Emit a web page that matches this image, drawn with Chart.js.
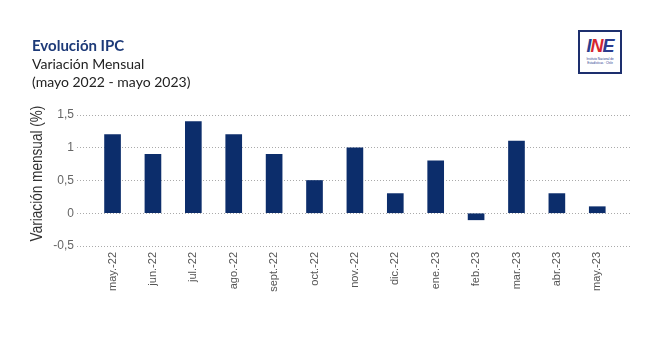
<!DOCTYPE html>
<html>
<head>
<meta charset="utf-8">
<script src="https://cdn.jsdelivr.net/npm/chart.js@4/dist/chart.umd.min.js"></script>
<style>
  html, body { margin: 0; padding: 0; background: #fff; }
  #wrap { position: relative; width: 650px; height: 345px; }
  #ipcChart { position: absolute; left: 0; top: 0; }
  .hdr { position: absolute; left: 32px; font-family: Lato, "Open Sans", sans-serif; white-space: nowrap; }
  #t1 { top: 36px; font-size: 15px; font-weight: bold; color: #1d3a78; }
  #t2 { top: 55px; font-size: 14px; color: #222; }
  #t3 { top: 73px; font-size: 14px; color: #222; }
  #logo { position: absolute; left: 578px; top: 30px; width: 44px; height: 44px; border: 2px solid #1d2f6e; box-sizing: border-box; background: #fff; text-align: center; font-family: "Liberation Sans", sans-serif; }
  #logo b { display: block; margin-top: 5px; font-size: 18px; line-height: 18px; letter-spacing: -1px; font-style: italic; }
  #logo b .i { color: #2a3d8f; }
  #logo b .n { color: #d6262f; }
  #logo b .e { color: #2a3d8f; }
  #logo small { display: block; font-size: 3px; line-height: 4px; color: #2a3d8f; margin-top: 2px; }
</style>
</head>
<body>
<div id="wrap">
  <canvas id="ipcChart" width="650" height="345"></canvas>
  <div class="hdr" id="t1">Evolución IPC</div>
  <div class="hdr" id="t2">Variación Mensual</div>
  <div class="hdr" id="t3">(mayo 2022 - mayo 2023)</div>
  <div id="logo"><b><span class="i">I</span><span class="n">N</span><span class="e">E</span></b><small>Instituto Nacional de<br>Estadísticas · Chile</small></div>
</div>
<script>
// monthly IPC variation, May 2022 - May 2023
const months = ['may.-22', 'jun.-22', 'jul.-22', 'ago.-22', 'sept.-22', 'oct.-22', 'nov.-22',
  'dic.-22', 'ene.-23', 'feb.-23', 'mar.-23', 'abr.-23', 'may.-23'];
const variacion = [1.2, 0.9, 1.4, 1.2, 0.9, 0.5, 1.0, 0.3, 0.8, -0.1, 1.1, 0.3, 0.1];
const yTicks = [-0.5, 0, 0.5, 1, 1.5];
const yTitle = 'Variación mensual (%)';

const barColor = '#0c2d6b';
const ctx = document.getElementById('ipcChart').getContext('2d');

const fmt = (v) => String(v).replace('.', ',');

// y axis title, drawn narrow like the original Arial Narrow look
const axisTitle = {
  id: 'axisTitle',
  afterDraw(chart) {
    const c = chart.ctx;
    const area = chart.chartArea;
    c.save();
    c.translate(37, (area.top + area.bottom) / 2 - 7);
    c.rotate(-Math.PI / 2);
    c.scale(0.8, 1);
    c.font = '17px "Liberation Sans", sans-serif';
    c.fillStyle = '#333';
    c.textAlign = 'center';
    c.textBaseline = 'middle';
    c.fillText(yTitle, 0, 0);
    c.restore();
  },
};

const ipcChart = new Chart(ctx, {
  type: 'bar',
  data: {
    datasets: [{
      label: 'Variación mensual',
      data: variacion.map((v, i) => ({ x: i, y: v })),
      backgroundColor: barColor,
      borderColor: barColor,
      barThickness: 16,
    }],
  },
  options: {
    responsive: false,
    animation: false,
    layout: { padding: { top: 115, right: 18, bottom: 0, left: 0 } },
    plugins: {
      legend: { display: false },
      tooltip: { enabled: false },
    },
    scales: {
      x: {
        type: 'linear',
        offset: false,
        min: -0.88,
        max: 12.86,
        afterBuildTicks: (scale) => {
          scale.ticks = months.map((m, i) => ({ value: i }));
        },
        afterFit: (scale) => { scale.height = 99; },
        grid: { display: false, drawTicks: false },
        border: { display: false },
        ticks: {
          autoSkip: false,
          minRotation: 90,
          maxRotation: 90,
          padding: 6,
          color: '#555',
          font: { family: '"Liberation Sans Narrow", "Liberation Sans", sans-serif', size: 11 },
          callback: (v) => months[v] || '',
        },
      },
      y: {
        min: -0.5,
        max: 1.5,
        afterBuildTicks: (scale) => {
          scale.ticks = yTicks.map((v) => ({ value: v }));
        },
        afterFit: (scale) => { scale.width = 77; },
        border: { display: false, dash: [1, 2] },
        grid: {
          color: '#aaa',
          lineWidth: 1,
          drawTicks: false,
        },
        ticks: {
          padding: 3,
          color: '#666',
          font: { family: '"Liberation Sans", sans-serif', size: 12 },
          callback: (v) => fmt(v),
        },
      },
    },
  },
  plugins: [axisTitle],
});
</script>
</body>
</html>
